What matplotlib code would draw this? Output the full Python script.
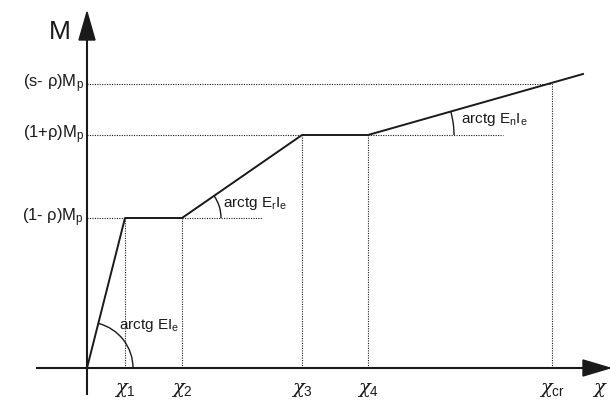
import numpy as np
import matplotlib.pyplot as plt
from matplotlib.patches import Arc

plt.rcParams["font.family"] = ["Liberation Sans", "DejaVu Sans"]
plt.rcParams["mathtext.fontset"] = "custom"
plt.rcParams["mathtext.rm"] = "Liberation Sans"
plt.rcParams["mathtext.it"] = "DejaVu Serif:italic"

# =============================================================================
# Moment-curvature diagram (values in drawing units, origin at axes cross)
# =============================================================================

chi_names = [r"$\chi_1$", r"$\chi_2$", r"$\chi_3$", r"$\chi_4$", r"$\chi_{\mathrm{cr}}$"]
chi_values = [38, 95, 215, 281, 465]
chi_end = 496

m_names = [r"(1- ρ)M$_\mathrm{p}$", r"(1+ρ)M$_\mathrm{p}$", r"(s- ρ)M$_\mathrm{p}$"]
m_values = [150, 233, 284]
m_end = 294

curve_chi = [0, chi_values[0], chi_values[1], chi_values[2], chi_values[3], chi_end]
curve_m = [0, m_values[0], m_values[0], m_values[1], m_values[1], m_end]

ink = "#1a1a1a"

fig = plt.figure(figsize=(6.1, 4.0), dpi=100)
ax = fig.add_axes([0, 0, 1, 1])
ax.set_xlim(-87, 523)
ax.set_ylim(-32, 368)
ax.axis("off")

# axes with arrows
ax.plot([-50, 496], [0, 0], color=ink, lw=1.5)
ax.plot([0, 0], [-26, 330], color=ink, lw=1.5)
ax.fill([496, 523, 496], [-8, 0, 8], color=ink)
ax.fill([-8, 0, 8], [328, 356, 328], color=ink)

# main curve
ax.plot(curve_chi, curve_m, color=ink, lw=1.4)

# dotted guide lines
dot = dict(color=ink, lw=0.8, linestyle=(0, (1, 1.2)))
ax.plot([0, chi_values[0]], [m_values[0]] * 2, **dot)
ax.plot([chi_values[1], chi_values[1] + 80], [m_values[0]] * 2, **dot)
ax.plot([0, chi_values[2]], [m_values[1]] * 2, **dot)
ax.plot([chi_values[3], chi_values[3] + 135], [m_values[1]] * 2, **dot)
ax.plot([0, chi_values[4]], [m_values[2]] * 2, **dot)
ax.plot([chi_values[0]] * 2, [0, m_values[0]], **dot)
ax.plot([chi_values[1]] * 2, [0, m_values[0]], **dot)
ax.plot([chi_values[2]] * 2, [0, m_values[1]], **dot)
ax.plot([chi_values[3]] * 2, [0, m_values[1]], **dot)
ax.plot([chi_values[4]] * 2, [0, m_values[2]], **dot)

# angle arcs
segments = [
    (0, 0, chi_values[0], m_values[0], 46),
    (chi_values[1], m_values[0], chi_values[2], m_values[1], 39),
    (chi_values[3], m_values[1], chi_end, m_end, 86),
]
for x0, y0, x1, y1, r in segments:
    ang = np.degrees(np.arctan2(y1 - y0, x1 - x0))
    ax.add_patch(Arc((x0, y0), 2 * r, 2 * r, theta1=0, theta2=ang, color=ink, lw=1.0))

ax.text(32, 42, r"arctg EI$_\mathrm{e}$", fontsize=11, va="center", ha="left", color=ink)
ax.text(136, 165, r"arctg E$_\mathrm{r}$I$_\mathrm{e}$", fontsize=11, va="center", ha="left", color=ink)
ax.text(374, 248, r"arctg E$_\mathrm{n}$I$_\mathrm{e}$", fontsize=11, va="center", ha="left", color=ink)

# tick labels
for name, value in zip(chi_names, chi_values):
    ax.text(value, -22, name, fontsize=14, ha="center", va="center", color=ink)
ax.text(521, -22, r"$\chi$", fontsize=14, ha="right", va="center", color=ink)

for name, value in zip(m_names, m_values):
    ax.text(-3, value, name, fontsize=12, ha="right", va="center", color=ink)
ax.text(-27, 336, "M", fontsize=19, ha="center", va="center", color=ink)

plt.savefig("out.png", dpi=100)
